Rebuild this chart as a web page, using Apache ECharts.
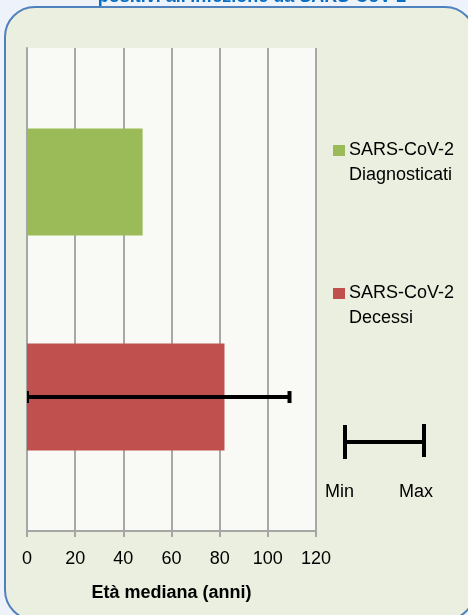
<!DOCTYPE html>
<html>
<head>
<meta charset="utf-8">
<script src="https://cdn.jsdelivr.net/npm/echarts@6/dist/echarts.min.js"></script>
<style>
    html, body { margin: 0; padding: 0; background: #eef3fb; }
    #chart { width: 468px; height: 615px; }
</style>
</head>
<body>
<div id="chart"></div>
<script>
// dati
var seriesNames = ['SARS-CoV-2 Diagnosticati', 'SARS-CoV-2 Decessi'];
var medianAge = [48, 82];
var ageRangeDecessi = [0, 109];   // min, max
var xTicks = [0, 20, 40, 60, 80, 100, 120];

var FONT = 'Liberation Sans';
var BAR_W = 107;
var GAP_PCT = 101;
var offsetDecessi = (BAR_W + BAR_W * GAP_PCT / 100) / 2;

var myChart = echarts.init(document.getElementById('chart'));

var option = {
    backgroundColor: '#eef3fb',
    animation: false,
    textStyle: { fontFamily: FONT },
    grid: {
        left: 27, right: 152, top: 48, bottom: 84,
        show: true, backgroundColor: '#f9faf5', borderWidth: 0
    },
    xAxis: {
        type: 'value',
        min: xTicks[0],
        max: xTicks[xTicks.length - 1],
        interval: 20,
        name: 'Età mediana (anni)',
        nameLocation: 'middle',
        nameGap: 53,
        nameTextStyle: { fontFamily: FONT, fontSize: 18, fontWeight: 'bold', color: '#000' },
        axisLine: { show: true, lineStyle: { color: '#a6a6a6', width: 2 } },
        axisTick: { show: true, length: 6, lineStyle: { color: '#a6a6a6', width: 2 } },
        axisLabel: { fontFamily: FONT, fontSize: 18, color: '#000', margin: 19 },
        splitLine: { show: true, lineStyle: { color: '#a8a8a8', width: 2 } }
    },
    yAxis: {
        type: 'category',
        data: ['Età'],
        axisLine: { show: true, lineStyle: { color: '#a6a6a6', width: 2 } },
        axisTick: { show: false },
        axisLabel: { show: false }
    },
    series: [
        {
            name: seriesNames[0],
            type: 'bar',
            data: [medianAge[0]],
            barWidth: BAR_W,
            barGap: GAP_PCT + '%',
            itemStyle: { color: '#9bbb59' }
        },
        {
            name: seriesNames[1],
            type: 'bar',
            data: [medianAge[1]],
            barWidth: BAR_W,
            barGap: GAP_PCT + '%',
            itemStyle: { color: '#c0504d' }
        },
        {
            // barra min-max dei decessi
            type: 'custom',
            z: 10,
            data: [[ageRangeDecessi[0], ageRangeDecessi[1], 0]],
            renderItem: function (params, api) {
                var lo = api.coord([api.value(0), api.value(2)]);
                var hi = api.coord([api.value(1), api.value(2)]);
                var y = lo[1] + offsetDecessi;
                var st = { stroke: '#000', lineWidth: 4 };
                return {
                    type: 'group',
                    children: [
                        { type: 'line', shape: { x1: lo[0], y1: y, x2: hi[0], y2: y }, style: st },
                        { type: 'line', shape: { x1: lo[0] + 1, y1: y - 6, x2: lo[0] + 1, y2: y + 6 }, style: { stroke: '#000', lineWidth: 2 } },
                        { type: 'line', shape: { x1: hi[0], y1: y - 6, x2: hi[0], y2: y + 6 }, style: st }
                    ]
                };
            }
        }
    ],
    graphic: [
        {
            type: 'rect', z: -10,
            shape: { x: 5, y: 7, width: 470, height: 613, r: 30 },
            style: { fill: '#ebefdf', stroke: '#4f81bd', lineWidth: 2 }
        },
        {
            type: 'text', x: 252, y: -3,
            style: {
                text: "positivi all'infezione da SARS-CoV-2",
                font: 'bold 18px "Liberation Sans"',
                fill: '#0a6fc2', align: 'center', verticalAlign: 'middle'
            }
        },
        // legenda
        { type: 'rect', shape: { x: 333, y: 145, width: 12, height: 11 }, style: { fill: '#9bbb59' } },
        {
            type: 'text', x: 349, y: 138,
            style: { text: 'SARS-CoV-2\nDiagnosticati', font: '18px "Liberation Sans"', lineHeight: 25, fill: '#000', verticalAlign: 'top' }
        },
        { type: 'rect', shape: { x: 333, y: 288, width: 12, height: 11 }, style: { fill: '#c0504d' } },
        {
            type: 'text', x: 349, y: 281,
            style: { text: 'SARS-CoV-2\nDecessi', font: '18px "Liberation Sans"', lineHeight: 25, fill: '#000', verticalAlign: 'top' }
        },
        // chiave min / max
        { type: 'line', shape: { x1: 345, y1: 442, x2: 424, y2: 442 }, style: { stroke: '#000', lineWidth: 4 } },
        { type: 'line', shape: { x1: 345, y1: 425, x2: 345, y2: 459 }, style: { stroke: '#000', lineWidth: 4 } },
        { type: 'line', shape: { x1: 424, y1: 424, x2: 424, y2: 457 }, style: { stroke: '#000', lineWidth: 4 } },
        { type: 'text', x: 339.5, y: 492, style: { text: 'Min', font: '18px "Liberation Sans"', fill: '#000', align: 'center', verticalAlign: 'middle' } },
        { type: 'text', x: 416, y: 492, style: { text: 'Max', font: '18px "Liberation Sans"', fill: '#000', align: 'center', verticalAlign: 'middle' } }
    ]
};

myChart.setOption(option);
</script>
</body>
</html>
